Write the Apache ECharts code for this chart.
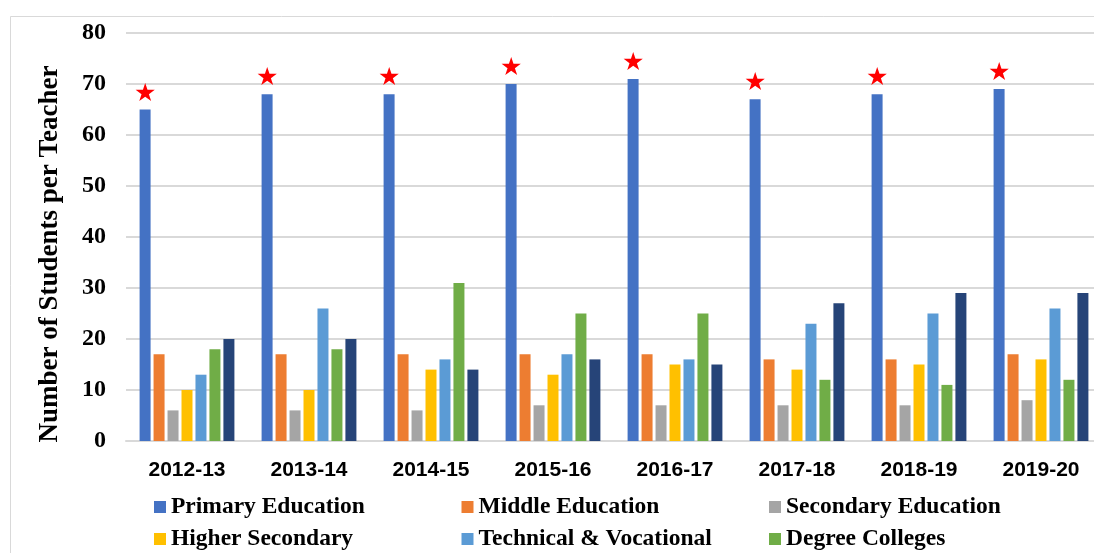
<!DOCTYPE html>
<html>
<head>
<meta charset="utf-8">
<script src="https://cdn.jsdelivr.net/npm/echarts@6/dist/echarts.min.js"></script>
<style>html,body{margin:0;padding:0;background:#fff;}#c{width:1094px;height:553px;}</style>
</head>
<body>
<div id="c"></div>
<script>
const categories = ['2012-13','2013-14','2014-15','2015-16','2016-17','2017-18','2018-19','2019-20'];
const seriesNames = ['Primary Education','Middle Education','Secondary Education','Higher Secondary','Technical & Vocational','Degree Colleges','Universities'];
const primary    = [65, 68, 68, 70, 71, 67, 68, 69];
const middle     = [17, 17, 17, 17, 17, 16, 16, 17];
const secondary  = [6, 6, 6, 7, 7, 7, 7, 8];
const higherSec  = [10, 10, 14, 13, 15, 14, 15, 16];
const technical  = [13, 26, 16, 17, 16, 23, 25, 26];
const degree     = [18, 18, 31, 25, 25, 12, 11, 12];
const universities = [20, 20, 14, 16, 15, 27, 29, 29];
const yTicks = [0, 10, 20, 30, 40, 50, 60, 70, 80];

const values = [primary, middle, secondary, higherSec, technical, degree, universities];
const colors = ['#4472C4','#ED7D31','#A5A5A5','#FFC000','#5B9BD5','#70AD47','#264478'];

const chart = echarts.init(document.getElementById('c'));
const series = values.map((v, i) => {
  const s = {
    name: seriesNames[i],
    type: 'bar',
    data: v,
    barWidth: 11,
    barGap: '27%',
    itemStyle: { color: colors[i] }
  };
  if (i === 0) {
    s.label = {
      show: true,
      position: 'top',
      distance: 3,
      formatter: '\u2605',
      color: '#FF0000',
      fontSize: 25,
      fontFamily: 'DejaVu Sans'
    };
  }
  return s;
});

const legends = [];
for (let i = 0; i < 6; i++) {
  const col = i % 3, row = Math.floor(i / 3);
  legends.push({
    data: [seriesNames[i]],
    left: 154 + col * 307.5,
    top: 495 + row * 32,
    icon: 'rect',
    itemWidth: 12,
    itemHeight: 12,
    padding: 0,
    selectedMode: false,
    textStyle: { fontFamily: 'Liberation Serif', fontWeight: 'bold', fontSize: 23.5, color: '#000' }
  });
}

chart.setOption({
  animation: false,
  backgroundColor: '#fff',
  grid: { left: 126, right: -8, top: 33, bottom: 112, containLabel: false, outerBoundsMode: 'none' },
  legend: legends,
  graphic: [
    { type: 'rect', left: 8, top: 14, shape: { width: 1100, height: 560 }, style: { fill: 'none', stroke: '#d9d9d9', lineWidth: 1 } },
    { type: 'text', x: 50, y: 254, rotation: Math.PI / 2,
      style: { text: 'Number of Students per Teacher', font: 'bold 27px "Liberation Serif"', fill: '#000', textAlign: 'center', textVerticalAlign: 'middle' } }
  ],
  xAxis: {
    type: 'category',
    data: categories,
    axisTick: { show: false },
    axisLine: { show: true, lineStyle: { color: '#d9d9d9', width: 2 } },
    axisLabel: { margin: 19, fontFamily: 'Liberation Sans', fontWeight: 'bold', fontSize: 21, color: '#000' }
  },
  yAxis: {
    type: 'value',
    min: yTicks[0],
    max: yTicks[yTicks.length - 1],
    interval: 10,
    axisLine: { show: false },
    axisTick: { show: false },
    splitLine: { lineStyle: { color: '#d9d9d9', width: 2 } },
    axisLabel: { margin: 20, fontFamily: 'Liberation Serif', fontWeight: 'bold', fontSize: 24, color: '#000' }
  },
  series: series
});
</script>
</body>
</html>
